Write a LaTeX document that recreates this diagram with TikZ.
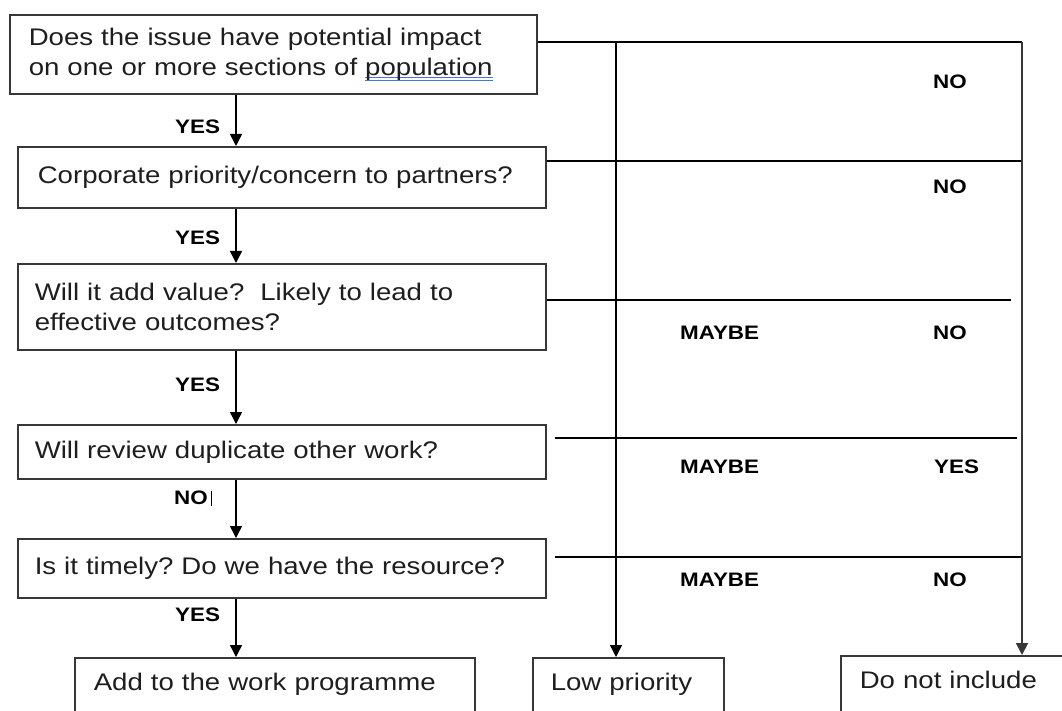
\documentclass[tikz,border=0pt]{standalone}
\usepackage{fontspec}
\setmainfont{Liberation Sans}[FakeStretch=1.15]
\usetikzlibrary{arrows.meta}

\definecolor{ink}{RGB}{30,30,30}
\definecolor{frame}{RGB}{55,55,55}
\definecolor{spell}{RGB}{70,115,215}

% word with a blue double underline
\newcommand\dblmark[1]{%
  \setbox0\hbox{#1}%
  \rlap{\color{spell}\rule[-2.5pt]{\wd0}{0.8pt}\llap{\rule[-5.5pt]{\wd0}{0.8pt}}}%
  \box0}

\tikzset{
  qbox/.style={draw=frame, line width=1.6pt, anchor=north west, align=left,
    inner ysep=0pt, text=ink, font=\fontsize{24}{30}\selectfont\frenchspacing},
  endbox/.style={qbox, minimum height=0pt, text height=33pt, text depth=40pt},
  tag/.style={font=\bfseries\fontsize{19.5}{21}\selectfont, text=black,
    inner sep=0pt, anchor=west},
  flow/.style={line width=1.4pt, draw=black},
  flowarr/.style={flow, -{Triangle[length=12pt,width=12pt]}},
}

\begin{document}
\begin{tikzpicture}[x=1pt, y=-1pt]
  \useasboundingbox (0,0) rectangle (1062,711);
  \fill[white] (0,0) rectangle (1062,711);
  \clip (0,0) rectangle (1062,711);

  % question boxes
  \node[qbox, inner xsep=19pt, text width=489pt, minimum height=79pt] (q1) at (9,14)
    {Does the issue have potential impact\\on one or more sections of \dblmark{population}};
  \node[qbox, inner xsep=20pt, text width=488pt, minimum height=61pt] (q2) at (17,146)
    {Corporate priority/concern to partners?};
  \node[qbox, inner xsep=17pt, text width=494pt, minimum height=86pt] (q3) at (17,263)
    {Will it add value?\ \ Likely to lead to\\effective outcomes?};
  \node[qbox, inner xsep=17pt, text width=494pt, minimum height=54pt] (q4) at (17,424)
    {Will review duplicate other work?};
  \node[qbox, inner xsep=17pt, text width=494pt, minimum height=59pt] (q5) at (17,538)
    {Is it timely? Do we have the resource?};

  % outcome boxes
  \node[endbox, inner xsep=19pt, text width=362pt] (add) at (74,657)
    {Add to the work programme};
  \node[endbox, inner xsep=18pt, text width=155pt] (low) at (532,657)
    {Low priority};
  \node[endbox, inner xsep=19pt, text width=400pt] (dni) at (840,655)
    {Do not include};

  % trunk coordinates
  \coordinate (ax) at (236,0);
  \coordinate (mtop) at (616,42);
  \coordinate (rtop) at (1022,42);
  \coordinate (r2) at (1022,161);
  \coordinate (e3) at (1011,300);
  \coordinate (s4) at (555,438);
  \coordinate (e4) at (1017,438);
  \coordinate (s5) at (555,557);
  \coordinate (r5) at (1022,557);

  % main "yes" path
  \draw[flowarr] (q1.south -| ax) -- (q2.north -| ax);
  \draw[flowarr] (q2.south -| ax) -- (q3.north -| ax);
  \draw[flowarr] (q3.south -| ax) -- (q4.north -| ax);
  \draw[flowarr] (q4.south -| ax) -- (q5.north -| ax);
  \draw[flowarr] (q5.south -| ax) -- (add.north -| ax);

  % side branches
  \draw[flow] (q1.east |- mtop) -- (rtop);
  \draw[flow] (q2.east |- r2) -- (r2);
  \draw[flow] (q3.east |- e3) -- (e3);
  \draw[flow] (s4) -- (e4);
  \draw[flow] (s5) -- (r5);
  \draw[flowarr] (mtop) -- (low.north -| mtop);
  \draw[flowarr, line width=1.8pt, draw=frame] (rtop) -- (dni.north -| rtop);

  % answers on the main path
  \node[tag] (y1) at (175,127) {YES};
  \node[tag] (y2) at (175,238) {YES};
  \node[tag] (y3) at (175,385) {YES};
  \node[tag] (n4) at (174,498) {NO\kern3pt\rule[-1pt]{0.8pt}{15pt}};
  \node[tag] (y5) at (175,615) {YES};

  % answers on the side branches
  \node[tag] (b1n) at (933,82) {NO};
  \node[tag] (b2n) at (933,187) {NO};
  \node[tag] (b3m) at (680,333) {MAYBE};
  \node[tag] (b3n) at (933,333) {NO};
  \node[tag] (b4m) at (680,467) {MAYBE};
  \node[tag] (b4y) at (934,467) {YES};
  \node[tag] (b5m) at (680,580) {MAYBE};
  \node[tag] (b5n) at (933,580) {NO};
\end{tikzpicture}
\end{document}
